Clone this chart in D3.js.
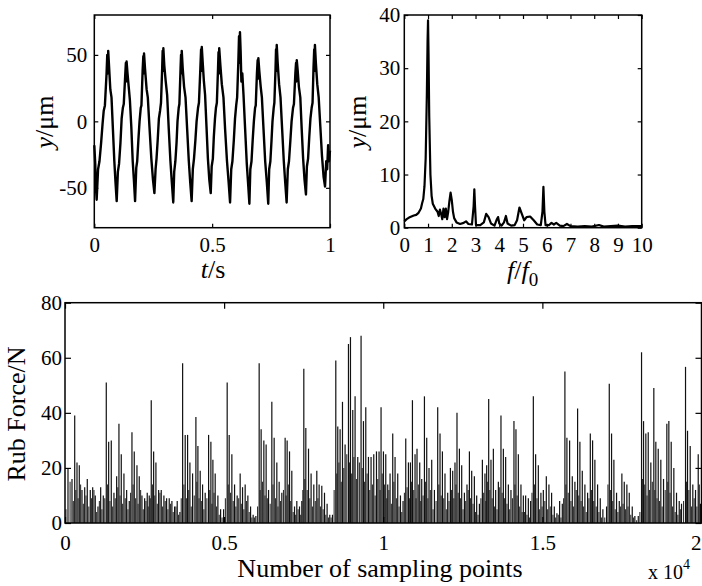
<!DOCTYPE html>
<html><head><meta charset="utf-8">
<script src="https://cdn.jsdelivr.net/npm/d3@7"></script>
<style>
body{margin:0;background:#fff}
svg{display:block}
svg text{font-family:"Liberation Serif","Times New Roman",serif !important;fill:#000}
</style>
</head><body>
<svg id="c" width="702" height="586"></svg>
<script>
// ---- Top-left: displacement time series (t [s], y [um]) ----
const displacement = [
[0.000,-18],[0.004,-32],[0.007,-50],
[0.010,-59],[0.016,-36],[0.022,-30],[0.029,-16],[0.035,-2],[0.040,8],[0.045,12],[0.052,36],[0.055,50],[0.057,36],[0.059,53],
[0.063,40],[0.068,24],[0.073,18],[0.079,-6],[0.085,-30],[0.090,-46],
[0.095,-60],[0.100,-38],[0.105,-32],[0.111,-16],[0.116,2],[0.121,10],[0.125,13],[0.131,34],[0.134,44],[0.135,30],[0.137,45],
[0.141,36],[0.146,26],[0.151,16],[0.157,-4],[0.163,-30],[0.168,-44],
[0.173,-60],[0.178,-35],[0.182,-30],[0.187,-14],[0.192,0],[0.197,10],[0.200,12],[0.205,38],[0.208,49],[0.209,36],[0.211,51],
[0.215,40],[0.222,24],[0.227,18],[0.234,-4],[0.242,-28],[0.249,-44],
[0.255,-54],[0.260,-36],[0.264,-28],[0.269,-14],[0.274,2],[0.279,8],[0.283,14],[0.288,40],[0.290,53],[0.291,38],[0.293,55],
[0.297,42],[0.303,30],[0.309,20],[0.316,-6],[0.323,-30],[0.329,-46],
[0.335,-61],[0.339,-38],[0.344,-30],[0.349,-16],[0.353,0],[0.358,10],[0.361,13],[0.366,40],[0.368,50],[0.369,36],[0.371,53],
[0.375,40],[0.381,26],[0.387,18],[0.394,-6],[0.401,-30],[0.407,-46],
[0.413,-60],[0.418,-36],[0.423,-28],[0.429,-14],[0.434,0],[0.440,10],[0.444,14],[0.450,40],[0.453,54],[0.454,38],[0.456,56],
[0.460,44],[0.465,30],[0.470,20],[0.476,-4],[0.482,-28],[0.488,-44],
[0.494,-54],[0.498,-34],[0.503,-28],[0.507,-12],[0.512,2],[0.516,10],[0.520,14],[0.525,40],[0.527,52],[0.528,36],[0.530,55],
[0.535,42],[0.541,28],[0.548,18],[0.555,-6],[0.563,-30],[0.570,-46],
[0.576,-61],[0.581,-36],[0.586,-30],[0.592,-14],[0.597,2],[0.602,12],[0.606,18],[0.611,44],[0.614,64],[0.616,44],[0.618,67],
[0.621,52],[0.624,30],[0.628,36],[0.633,20],[0.640,-6],[0.647,-32],[0.653,-48],
[0.658,-62],[0.662,-36],[0.667,-30],[0.672,-14],[0.677,0],[0.682,10],[0.685,12],[0.690,36],[0.693,46],[0.694,32],[0.696,47.5],
[0.700,38],[0.706,26],[0.711,18],[0.718,-6],[0.725,-30],[0.732,-46],
[0.738,-62],[0.742,-36],[0.747,-30],[0.752,-14],[0.756,0],[0.761,10],[0.764,14],[0.769,40],[0.771,54],[0.772,38],[0.774,57.5],
[0.778,44],[0.784,28],[0.790,18],[0.797,-6],[0.804,-30],[0.810,-46],
[0.816,-61],[0.821,-36],[0.826,-30],[0.832,-14],[0.837,0],[0.843,10],[0.847,13],[0.853,36],[0.856,44],[0.857,30],[0.859,46],
[0.863,38],[0.868,26],[0.874,18],[0.880,-6],[0.886,-28],[0.892,-44],
[0.898,-55],[0.902,-34],[0.907,-28],[0.912,-12],[0.917,2],[0.922,10],[0.926,14],[0.930,40],[0.933,54],[0.934,38],[0.936,57.5],
[0.940,44],[0.946,28],[0.952,18],[0.959,-4],[0.966,-26],[0.973,-42],
[0.979,-49],[0.984,-30],[0.988,-36],[0.992,-18],[0.996,-30],[1.000,-22]
];
const tlXTicks = [0, 0.5, 1];
const tlYTicks = [-50, 0, 50];

// ---- Top-right: amplitude spectrum (f/f0, y [um]) ----
const spectrum = [
[0,1.2],[0.1,1.6],[0.2,1.9],[0.3,2.1],[0.4,2.3],[0.5,2.4],[0.6,2.8],[0.7,3.6],[0.75,4.6],[0.8,5.4],[0.85,7.8],[0.9,13],
[0.95,25],[0.98,35],[1.0,39],[1.02,33],[1.05,21],[1.1,10],[1.15,6],[1.2,4.5],[1.3,3.6],[1.4,3.0],[1.45,2.2],[1.5,3.4],
[1.55,2.6],[1.6,1.6],[1.65,3.6],[1.7,2.0],[1.75,3.6],[1.8,1.6],[1.85,3.0],[1.9,5.0],[1.95,6.6],[2.0,5.2],[2.05,3.0],
[2.1,1.8],[2.2,1.0],[2.35,0.7],[2.5,0.9],[2.6,1.2],[2.7,0.7],[2.85,0.6],[2.92,4],[2.95,7.2],[2.98,4.0],[3.02,0.5],
[3.2,0.5],[3.35,1.0],[3.45,2.6],[3.55,2.0],[3.65,0.8],[3.8,0.4],[3.9,1.6],[3.95,2.0],[4.0,0.8],[4.1,0.4],[4.2,1.0],
[4.28,2.2],[4.35,0.8],[4.5,0.4],[4.65,0.5],[4.75,1.4],[4.85,3.8],[4.95,2.6],[5.05,1.4],[5.15,2.0],[5.3,2.1],[5.45,1.4],
[5.6,0.6],[5.75,0.5],[5.82,3],[5.86,7.7],[5.9,3],[5.95,0.5],[6.1,0.5],[6.2,0.9],[6.3,0.6],[6.4,0.9],[6.55,0.4],[6.7,0.3],
[6.85,0.7],[7.0,0.3],[7.3,0.2],[7.6,0.3],[7.9,0.2],[8.2,0.5],[8.4,0.2],[8.7,0.3],[9.0,0.4],[9.3,0.2],[9.6,0.3],[10,0.3]
];
const trXTicks = [0,1,2,3,4,5,6,7,8,9,10];
const trYTicks = [0,10,20,30,40];

// ---- Bottom: rub force vs sampling points (main impacts) ----
const spikePos = [
94,220,305,377,449,534,619,700,794,870,951,1036,1121,1203,1297,1372,1454,1538,1623,1695,1768,1852,1937,2019,2104,2176,2261,2333,2418,2502,2584,2647,2710,2785,2857,2942,3024,3108,3193,3275,3359,3444,3526,3611,3696,3777,3852,3925,4009,4113,4176,4248,4323,4405,4512,4584,4647,4719,4804,4889,
4983,5096,5159,5243,5328,5410,5504,5579,5661,5746,5831,5912,5997,6101,6163,6248,6320,6396,6499,6572,6656,6729,6813,6917,6980,7055,7127,7212,7284,7369,7441,7504,7567,7652,7733,7818,7912,7985,8069,8154,8236,8320,8405,8509,8571,8644,8719,8801,8907,8970,9042,9115,9199,9303,9378,9451,9535,9617,9702,9787,9868,9931,
10006,10079,10141,10214,10298,10371,10455,10540,10622,10707,10791,10854,10917,10999,11061,11146,11209,11294,11366,11438,11523,11608,11711,11784,11859,11940,12025,12110,12182,12254,12317,12393,12465,12550,12631,12707,12779,12863,12936,13021,13115,13196,13250,13313,13385,13460,13532,13617,13699,13774,13846,13931,14013,14107,14170,14245,14327,14402,14474,14559,14631,14716,14788,14873,14954,
15030,15124,15206,15290,15375,15457,15542,15626,15708,15771,15856,15940,16022,16107,16179,16254,16336,16421,16506,16578,16650,16735,16819,16901,17017,17102,17174,17247,17331,17416,17498,17573,17655,17730,17824,17906,18013,18116,18179,18251,18326,18408,18502,18565,18640,18722,18807,18911,18974,19048,19131,19215,19300,19372,19498,19561,19645,19727,19812,19897,19969
];
const spikeForce = [
19.8,16,39,22,21,12,13,16,12,13,10,6,13,10,51,29.5,30,11,17,36,25,18,12,8,33,26,21,17,10,9,11,10,44.6,26,22,12,12,10,9,9,8,6,8,4,58,32,32,22,18,38.5,28,19,14,11,32,29.5,23,18,10,5,
5,51,32,25,14,10,18,13,14,10,6,3,2.5,58,34,30,28.5,12,44,31,22,15,11,31,30,26,19,6,8,6,8,56,34.5,27,18,14,19,14,13.5,11,7,3,3,59,35,34,44,28.5,65,67.5,41,46,24,68,37,42,24,24,25,26,26,42,
26,25,14,18,32.5,24,18,10,8,30.7,22,22,44.6,25,27,22,16,46,31,20,23,12,42,32.5,26,18,11,20,19,22,40,27,21,11,14,26,19,17,10,7,23,18,21,45,23,27,12,15,39,27,24,14,12,37,34,25,14,10,10,9,8,46,25,21,11,
12,17,14,11,6,3.5,8,7,55,31,30,17,15,41.6,29.5,19,14,11,32.5,30,23,14,9,5,6,50.6,32.5,23,11,8,18,15,14,11,6,2.5,2.5,62,37,32.5,33,22,49,29.5,27,23,16,36,37,29.5,20,11,8,7,56.7,33.5,28,14,12,25,7
];
// ---- Bottom: smaller impacts between the main ones ----
const minorPos = [
30,160,262,340,412,490,577,660,748,832,910,994,1080,1160,1250,1336,1412,1496,1580,1660,1730,1810,1894,1978,2060,2140,2218,2297,2376,2460,2543,2615,2680,2748,2821,2900,2983,3066,3150,3234,3317,3400,3485,3568,3652,3736,3815,3888,3967,4061,4144,4212,4285,4364,4458,4548,4616,4683,4761,4846,4936,
5040,5128,5200,5286,5369,5457,5541,5620,5703,5788,5871,5954,6050,6132,6205,6284,6358,6447,6535,6614,6692,6771,6865,6948,7017,7091,7170,7248,7326,7405,7472,7535,7610,7692,7775,7865,7948,8027,8111,8195,8278,8362,8457,8540,8607,8681,8760,8854,8938,9006,9078,9157,9251,9340,9414,9493,9576,9660,9745,9827,9900,9968,
10042,10110,10177,10256,10334,10413,10497,10581,10665,10749,10822,10885,10958,11030,11103,11177,11251,11330,11402,11480,11565,11660,11747,11821,11900,11982,12067,12146,12218,12285,12355,12429,12507,12590,12669,12743,12821,12900,12978,13068,13155,13223,13281,13349,13422,13496,13575,13658,13736,13810,13888,13972,14060,14138,14207,14286,14364,14438,14516,14595,14673,14752,14830,14913,14992,
15077,15165,15248,15332,15416,15500,15584,15667,15740,15813,15898,15981,16064,16143,16216,16295,16378,16463,16542,16614,16692,16777,16860,16959,17060,17138,17210,17289,17373,17457,17535,17614,17692,17777,17865,17960,18064,18148,18215,18288,18367,18455,18533,18602,18681,18764,18859,18942,19011,19090,19173,19257,19336,19435,19530,19603,19686,19770,19855,19933
];
const minorForce = [
5,15,8,12,9,14,7,10,6,9,12,4,8,5,9,14,8,6,9,13,10,7,9,5,11,14,9,7,12,5,8,6,9,14,10,7,11,6,8,5,7,4,6,3,9,14,9,12,6,10,15,9,8,5,9,12,7,11,6,3,2,
9,14,11,8,6,9,7,5,8,4,2,2,6,12,15,10,9,7,14,9,6,8,12,10,14,8,4,3,5,3,12,16,12,9,6,8,9,6,5,3,2,2,12,18,22,15,20,25,22,18,24,16,22,20,15,18,12,14,10,16,12,18,
14,9,12,7,15,9,6,4,11,13,9,15,12,9,14,8,10,15,9,12,5,8,14,10,9,5,8,12,9,14,11,9,5,8,12,9,7,4,3,9,11,8,15,12,9,6,5,13,11,9,7,5,9,14,10,6,4,4,3,2,11,14,9,5,6,
8,5,6,3,2,3,2,9,14,11,8,6,12,10,8,6,4,9,12,8,6,4,2,2,14,12,8,5,4,6,7,5,6,3,2,1,4,16,14,10,12,15,12,9,8,6,12,15,11,6,4,3,5,8,15,12,6,9,6,14
];
const bXTicks = [0, 5000, 10000, 15000, 20000];
const bYTicks = [0, 20, 40, 60, 80];

const svg = d3.select("#c");
const FONT = '"Liberation Serif","Times New Roman",serif';

function frame(x0,x1,y0,y1){
  svg.append("rect").attr("x",x0).attr("y",y0).attr("width",x1-x0).attr("height",y1-y0)
    .attr("fill","none").attr("stroke","#000").attr("stroke-width",1.5);
}
function axes(x, y, xt, yt, tick, xpad, ypad, fs, xfmt){
  const [x0,x1] = x.range(), [y1,y0] = y.range();
  const style = g => { g.attr("font-size",fs); g.select(".domain").remove();
    g.selectAll("text").style("font-family",FONT).style("font-size",fs+"px");
    g.selectAll("line").attr("stroke","#000").attr("stroke-width",1.2); };
  const gx = svg.append("g").attr("transform",`translate(0,${y1})`)
    .call(d3.axisBottom(x).tickValues(xt).tickSize(-tick).tickPadding(xpad).tickFormat(xfmt||(d=>d)))
    .call(style);
  svg.append("g").attr("transform",`translate(0,${y0})`)
    .call(d3.axisTop(x).tickValues(xt).tickSize(-tick).tickFormat("")).call(style);
  svg.append("g").attr("transform",`translate(${x0},0)`)
    .call(d3.axisLeft(y).tickValues(yt).tickSize(-tick).tickPadding(ypad).tickFormat(d=>d)).call(style);
  svg.append("g").attr("transform",`translate(${x1},0)`)
    .call(d3.axisRight(y).tickValues(yt).tickSize(-tick).tickFormat("")).call(style);
  return gx;
}
function label(sel){ return sel.style("font-family",FONT); }

// ---------- Top-left ----------
const xTL = d3.scaleLinear().domain([0,1]).range([94.3,330]);
const yTL = d3.scaleLinear().domain([-80,80]).range([227.7,15]);
svg.append("path").datum(displacement)
  .attr("d", d3.line().x(d=>xTL(d[0])).y(d=>yTL(d[1])))
  .attr("fill","none").attr("stroke","#000").attr("stroke-width",2.4).attr("stroke-linejoin","round");
axes(xTL,yTL,tlXTicks,tlYTicks,4,9,7,21);
frame(94.3,330,15,227.7);
let t1 = label(svg.append("text")).attr("transform","translate(53,122) rotate(-90)").attr("text-anchor","middle").attr("font-size",26);
t1.append("tspan").attr("font-style","italic").text("y");
t1.append("tspan").text("/μm");
let t2 = label(svg.append("text")).attr("x",213).attr("y",278).attr("text-anchor","middle").attr("font-size",26);
t2.append("tspan").attr("font-style","italic").text("t");
t2.append("tspan").text("/s");

// ---------- Top-right ----------
const xTR = d3.scaleLinear().domain([0,10]).range([404.3,641.7]);
const yTR = d3.scaleLinear().domain([0,40]).range([227.7,15]);
svg.append("path").datum(spectrum)
  .attr("d", d3.line().x(d=>xTR(d[0])).y(d=>yTR(d[1])))
  .attr("fill","none").attr("stroke","#000").attr("stroke-width",2.2).attr("stroke-linejoin","round");
axes(xTR,yTR,trXTicks,trYTicks,4,9,4,21);
frame(404.3,641.7,15,227.7);
let t3 = label(svg.append("text")).attr("transform","translate(366,122) rotate(-90)").attr("text-anchor","middle").attr("font-size",26);
t3.append("tspan").attr("font-style","italic").text("y");
t3.append("tspan").text("/μm");
let t4 = label(svg.append("text")).attr("x",507).attr("y",279).attr("font-size",26);
t4.append("tspan").attr("font-style","italic").text("f");
t4.append("tspan").text("/");
t4.append("tspan").attr("font-style","italic").text("f");
t4.append("tspan").attr("font-size",19).attr("dy",7).text("0");

// ---------- Bottom ----------
const xB = d3.scaleLinear().domain([0,20000]).range([65,701.5]);
const yB = d3.scaleLinear().domain([0,80]).range([523,302.7]);
const gB = svg.append("g");
gB.selectAll("line.minor").data(d3.zip(minorPos, minorForce)).join("line").attr("class","minor")
  .attr("x1",d=>xB(d[0])).attr("x2",d=>xB(d[0]))
  .attr("y1",yB(0)).attr("y2",d=>yB(d[1]))
  .attr("stroke","#333").attr("stroke-width",1.1);
gB.selectAll("line.main").data(d3.zip(spikePos, spikeForce)).join("line").attr("class","main")
  .attr("x1",d=>xB(d[0])).attr("x2",d=>xB(d[0]))
  .attr("y1",yB(0)).attr("y2",d=>yB(d[1]))
  .attr("stroke","#111").attr("stroke-width",1.2);
const gxB = axes(xB,yB,bXTicks,bYTicks,6,12,3,21,d=>d/1e4);
// last tick label sits at the image edge: keep it inside
gxB.selectAll(".tick").filter(d=>d===20000).select("text").attr("text-anchor","end").attr("x",-0.5);
frame(65,701.5,302.7,523);
label(svg.append("text")).attr("transform","translate(25,414) rotate(-90)").attr("text-anchor","middle")
  .attr("font-size",26).text("Rub Force/N");
label(svg.append("text")).attr("x",380).attr("y",577).attr("text-anchor","middle").attr("font-size",26)
  .text("Number of sampling points");
let t5 = label(svg.append("text")).attr("x",648).attr("y",579).attr("font-size",20);
t5.append("tspan").text("x 10");
t5.append("tspan").attr("font-size",14).attr("dy",-10).text("4");
</script>
</body></html>
